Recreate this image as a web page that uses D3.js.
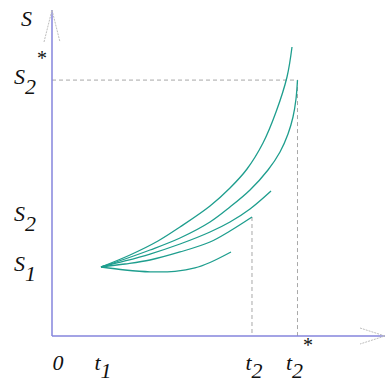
<!DOCTYPE html>
<html>
<head>
<meta charset="utf-8">
<script src="https://cdn.jsdelivr.net/npm/d3@7"></script>
<style>
  html, body { margin: 0; padding: 0; background: #fff; }
  svg { display: block; }
  text { font-family: "Liberation Serif", "Times New Roman", serif; font-style: italic; fill: #111; }
</style>
</head>
<body>
<svg id="chart" width="385" height="385"></svg>
<script>
// ---- data (abstract units: x = time, y = S) ----
const t1 = 14.71, t2 = 60.06, t2star = 73.72;
const S1 = 21.17, S2 = 36.5, S2star = 78.5;

const curve1 = [[14.71,21.17],[23.42,24.85],[31.83,29.14],[38.44,33.44],[47.45,39.88],[53.45,45.40],[58.56,51.23],[63.36,59.20],[67.27,68.71],[70.57,79.45],[72.07,88.65]];
const curve2 = [[14.71,21.17],[21.92,23.62],[29.43,26.38],[38.44,30.06],[47.45,34.97],[53.45,39.57],[59.46,44.79],[64.86,50.92],[68.47,56.44],[70.87,61.96],[72.37,67.18],[73.27,72.70],[73.72,78.5]];
const curve3 = [[14.71,21.17],[21.92,23.01],[29.43,25.15],[38.44,28.22],[47.45,31.90],[53.45,34.97],[59.46,38.96],[65.77,44.48]];
const curve4 = [[14.71,21.17],[21.92,22.09],[29.43,23.31],[38.44,25.77],[47.45,28.83],[53.45,32.21],[60.06,36.5]];
const curve5 = [[14.71,21.17],[21.92,20.25],[29.43,19.69],[36.94,19.85],[42.94,20.86],[47.45,22.55],[53.75,25.77]];
const curves = [curve1, curve2, curve3, curve4, curve5];

const xLabels = [{v: 0, main: "0", sub: "", star: false},
                 {v: t1, main: "t", sub: "1", star: false},
                 {v: t2, main: "t", sub: "2", star: false},
                 {v: t2star, main: "t", sub: "2", star: true}];
const yLabels = [{v: S1, main: "S", sub: "1", star: false},
                 {v: S2, main: "S", sub: "2", star: false},
                 {v: S2star, main: "S", sub: "2", star: true}];

// ---- drawing ----
const svg = d3.select("#chart");
const x = d3.scaleLinear().domain([0, 100]).range([52, 385]);
const y = d3.scaleLinear().domain([0, 100]).range([336, 10]);

const axisColor = "#8585dd";
const curveColor = "#1e9e8e";
const dashColor = "#a8a8a8";

// dashed guide lines
svg.append("line").attr("x1", x(0)).attr("x2", x(t2star)).attr("y1", y(S2star)).attr("y2", y(S2star))
  .attr("stroke", dashColor).attr("stroke-width", 1).attr("stroke-dasharray", "4,3");
svg.append("line").attr("x1", x(t2star)).attr("x2", x(t2star)).attr("y1", y(S2star)).attr("y2", y(0))
  .attr("stroke", dashColor).attr("stroke-width", 1).attr("stroke-dasharray", "4,3");
svg.append("line").attr("x1", x(t2)).attr("x2", x(t2)).attr("y1", y(S2)).attr("y2", y(0))
  .attr("stroke", dashColor).attr("stroke-width", 1).attr("stroke-dasharray", "4,3");

// axes
svg.append("line").attr("x1", x(0)).attr("x2", x(0)).attr("y1", y(0)).attr("y2", y(100))
  .attr("stroke", axisColor).attr("stroke-width", 1.5);
svg.append("line").attr("x1", x(0)).attr("x2", x(100)).attr("y1", y(0)).attr("y2", y(0))
  .attr("stroke", axisColor).attr("stroke-width", 1.5);

// arrow heads (thin grey)
const arrowColor = "#bdbdbd";
const yTip = [x(0), y(100)];
svg.append("path").attr("d", `M${yTip[0]-8},${yTip[1]+32} L${yTip[0]},${yTip[1]} L${yTip[0]+8},${yTip[1]+32}`)
  .attr("fill", "none").attr("stroke", arrowColor).attr("stroke-width", 1).attr("stroke-dasharray", "2,1");
const xTip = [x(100), y(0)];
svg.append("path").attr("d", `M${xTip[0]-25},${xTip[1]-8} L${xTip[0]},${xTip[1]} L${xTip[0]-25},${xTip[1]+8}`)
  .attr("fill", "none").attr("stroke", arrowColor).attr("stroke-width", 1).attr("stroke-dasharray", "2,1");

// curves
const line = d3.line().x(d => x(d[0])).y(d => y(d[1])).curve(d3.curveCatmullRom.alpha(0.5));
svg.selectAll("path.curve").data(curves).enter().append("path")
  .attr("class", "curve").attr("d", line)
  .attr("fill", "none").attr("stroke", curveColor).attr("stroke-width", 1.3);

// axis title
svg.append("text").attr("x", 21).attr("y", 26).attr("font-size", 22).text("S");

// y labels
yLabels.forEach(l => {
  const t = svg.append("text").attr("x", 14).attr("y", y(l.v) + 4).attr("font-size", 22);
  t.append("tspan").text(l.main);
  t.append("tspan").attr("dy", 10).text(l.sub);
  if (l.star) t.append("tspan").attr("dy", -29).attr("dx", 1).attr("font-style", "normal").attr("font-size", 20).text("*");
});

// x labels
xLabels.forEach(l => {
  const t = svg.append("text").attr("x", x(l.v) + (l.v === 0 ? 6 : 2)).attr("y", 370)
    .attr("font-size", 22).attr("text-anchor", "middle");
  t.append("tspan").text(l.main);
  if (l.sub) t.append("tspan").attr("dy", 8).text(l.sub);
  if (l.star) t.append("tspan").attr("dy", -26).attr("font-style", "normal").attr("font-size", 20).text("*");
});
</script>
</body>
</html>
